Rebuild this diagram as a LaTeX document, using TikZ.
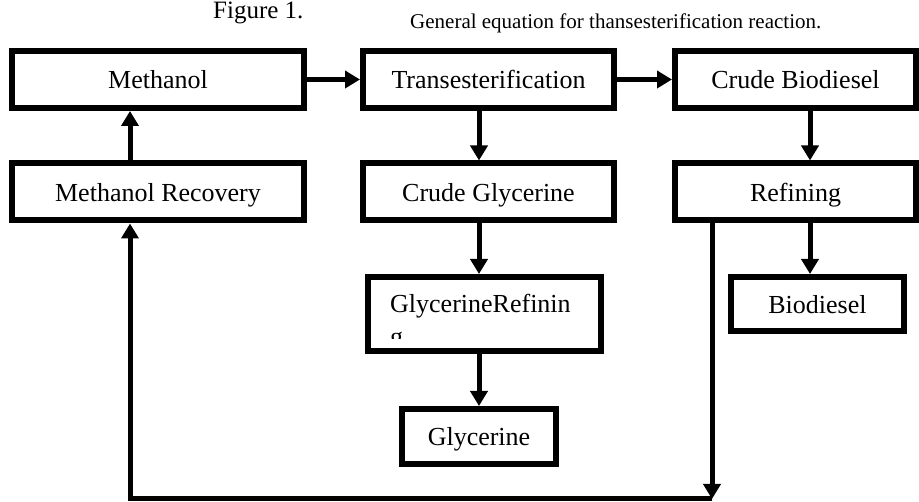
\documentclass[tikz,border=0pt]{standalone}
\usepackage{fontspec}
\setmainfont{Liberation Serif}
\usetikzlibrary{arrows.meta}

\begin{document}
\begin{tikzpicture}[x=1pt,y=-1pt,
    blk/.style={draw,line width=6pt,inner sep=0pt,minimum height=57pt,
        font=\fontsize{26}{30}\selectfont,text height=19pt,text depth=0pt},
    flow/.style={line width=5pt,-{Triangle[length=15pt,width=17pt]}}]
\useasboundingbox (0,0) rectangle (919,502);

% Caption line
\node[anchor=base west,inner sep=0pt,font=\fontsize{25}{28}\selectfont] (fig) at (213,19) {Figure 1.};
\node[anchor=base west,inner sep=0pt,font=\fontsize{21}{25}\selectfont] (cap) at (410,29) {General equation for thansesterification reaction.};

% Top row
\node[blk,minimum width=292pt] (meth) at (158,79.5) {Methanol};
\node[blk,minimum width=251pt] (trans) at (488.5,79.5) {Transesterification};
\node[blk,minimum width=241pt] (cbio) at (795.5,79.5) {Crude Biodiesel};

% Second row
\node[blk,minimum width=292pt] (mrec) at (158,192) {Methanol Recovery};
\node[blk,minimum width=251pt] (cgly) at (488.5,192) {Crude Glycerine};
\node[blk,minimum width=241pt] (refin) at (795.5,192) {Refining};

% Lower boxes
\node[blk,minimum width=233pt,minimum height=74pt] (grefin) at (484.5,314) {};
\begin{scope}
    % text cut off at the bottom
    \clip (371,280) rectangle (598,339);
    \node[anchor=base west,inner sep=0pt,font=\fontsize{26}{30}\selectfont] (grtxt) at (390,313) {GlycerineRefinin};
    \node[anchor=base west,inner sep=0pt,font=\fontsize{26}{30}\selectfont] (grtxtb) at (390,346) {g};
\end{scope}
\node[blk,minimum width=154pt,minimum height=55pt] (gly) at (479,436.5) {Glycerine};
\node[blk,minimum width=173pt,minimum height=54pt] (bio) at (817.5,304) {Biodiesel};

% Helper points
\coordinate (bcol) at (810,0);
\coordinate (ret) at (712,499);
\coordinate (retl) at (130,499);

% Arrows
\draw[flow] (meth.east) -- (trans.west);
\draw[flow] (trans.east) -- (cbio.west);
\draw[flow] (trans.south -| gly) -- (cgly.north -| gly);
\draw[flow] (cgly.south -| gly) -- (grefin.north -| gly);
\draw[flow] (grefin.south -| gly) -- (gly.north);
\draw[flow] (cbio.south -| bcol) -- (refin.north -| bcol);
\draw[flow] (refin.south -| bcol) -- (bio.north -| bcol);
\draw[flow] (mrec.north -| retl) -- (meth.south -| retl);

% Return line
\draw[flow] (refin.south -| ret) -- (ret);
\draw[flow] (ret) -- (retl) -- (mrec.south -| retl);
\end{tikzpicture}
\end{document}
